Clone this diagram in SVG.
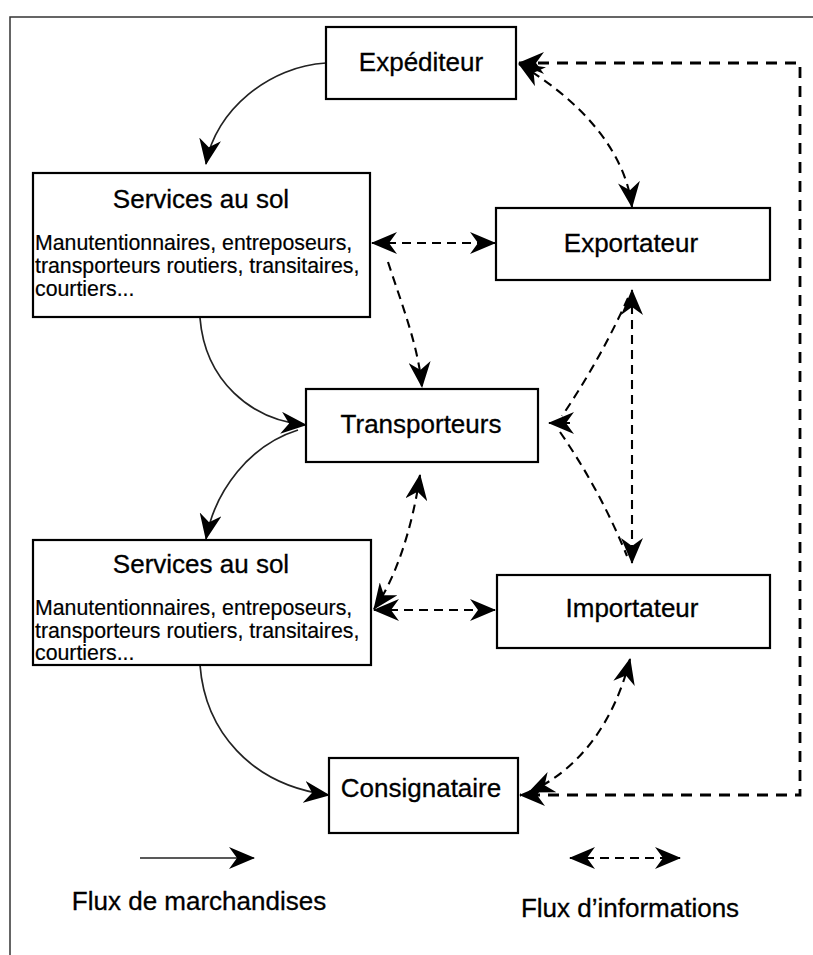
<svg xmlns="http://www.w3.org/2000/svg" width="813" height="955" viewBox="0 0 813 955">
<style>
.box{fill:#fff;stroke:#000;stroke-width:2.2}
.t{font-family:"Liberation Sans",Arial,sans-serif;font-size:26px;fill:#000;stroke:#000;stroke-width:0.3;text-anchor:middle}
.b{font-family:"Liberation Sans",Arial,sans-serif;font-size:21.3px;fill:#000;stroke:#000;stroke-width:0.2}
.solid{fill:none;stroke:#222;stroke-width:1.7}
.dash{fill:none;stroke:#000;stroke-width:2.1;stroke-dasharray:9 6}
.dash2{fill:none;stroke:#000;stroke-width:2.8;stroke-dasharray:11 8}
</style>
<defs>
<marker id="ah" viewBox="0 0 26 22" refX="25" refY="11" markerWidth="26" markerHeight="22" markerUnits="userSpaceOnUse" orient="auto-start-reverse">
<path d="M0,0 L26,11 L0,22 L8,11 z" fill="#000"/>
</marker>
</defs>
<rect width="813" height="955" fill="#fff"/>
<g id="frame" fill="none" stroke="#333" stroke-width="1.5">
<path d="M813,17 L10,17 L10,955"/>
</g>
<g id="connectors">
<path class="solid" d="M326,63 C270,66 215,110 206,164" marker-end="url(#ah)"/>
<path class="solid" d="M200,318 C205,380 250,420 306,425" marker-end="url(#ah)"/>
<path class="solid" d="M298,430 C250,445 215,490 206,539" marker-end="url(#ah)"/>
<path class="solid" d="M200,665 C205,730 250,785 329,795" marker-end="url(#ah)"/>
<path class="dash" d="M519,64 C580,100 625,150 632,207" marker-start="url(#ah)" marker-end="url(#ah)"/>
<path class="dash" d="M372,243 L495,243" marker-start="url(#ah)" marker-end="url(#ah)"/>
<path class="dash" d="M388,262 C402,305 418,345 422,387" marker-end="url(#ah)"/>
<path class="dash" d="M632,290 L632,563" marker-start="url(#ah)" marker-end="url(#ah)"/>
<path class="dash" d="M628,298 Q600,360 562,416"/>
<path class="dash" d="M560,432 Q600,490 627,556"/>
<path class="dash" d="M570,423 L549,423" marker-end="url(#ah)" stroke-dasharray="none"/>
<path class="dash" d="M420,475 C412,530 395,580 374,609" marker-start="url(#ah)" marker-end="url(#ah)"/>
<path class="dash" d="M374,610 L495,610" marker-start="url(#ah)" marker-end="url(#ah)"/>
<path class="dash" d="M630,659 C615,720 580,770 529,792" marker-start="url(#ah)" marker-end="url(#ah)"/>
<path class="dash2" d="M519,63 L800,63 L800,795 L520,795" marker-start="url(#ah)" marker-end="url(#ah)"/>
</g>
<g id="expediteur">
<rect class="box" x="326" y="27" width="190" height="72"/>
<text class="t" x="421" y="71">Expéditeur</text>
</g>
<g id="services1">
<rect class="box" x="33" y="173" width="337" height="144"/>
<text class="t" x="201" y="208">Services au sol</text>
<text class="b" x="35" y="250">Manutentionnaires, entreposeurs,</text>
<text class="b" x="35" y="273">transporteurs routiers, transitaires,</text>
<text class="b" x="35" y="296">courtiers...</text>
</g>
<g id="exportateur">
<rect class="box" x="496" y="208" width="274" height="72"/>
<text class="t" x="631" y="252">Exportateur</text>
</g>
<g id="transporteurs">
<rect class="box" x="306" y="389" width="232" height="73"/>
<text class="t" x="421" y="433">Transporteurs</text>
</g>
<g id="services2">
<rect class="box" x="33" y="540" width="338" height="125"/>
<text class="t" x="201" y="573">Services au sol</text>
<text class="b" x="35" y="615">Manutentionnaires, entreposeurs,</text>
<text class="b" x="35" y="638">transporteurs routiers, transitaires,</text>
<text class="b" x="35" y="660">courtiers...</text>
</g>
<g id="importateur">
<rect class="box" x="497" y="575" width="273" height="73"/>
<text class="t" x="632" y="617">Importateur</text>
</g>
<g id="consignataire">
<rect class="box" x="329" y="758" width="189" height="75"/>
<text class="t" x="421" y="797">Consignataire</text>
</g>
<g id="legend">
<path class="solid" d="M140,858 L254,858" marker-end="url(#ah)"/>
<path class="dash" d="M570,858 L680,858" marker-start="url(#ah)" marker-end="url(#ah)"/>
<text class="t" x="199" y="910">Flux de marchandises</text>
<text class="t" x="630" y="917">Flux d’informations</text>
</g>
</svg>
